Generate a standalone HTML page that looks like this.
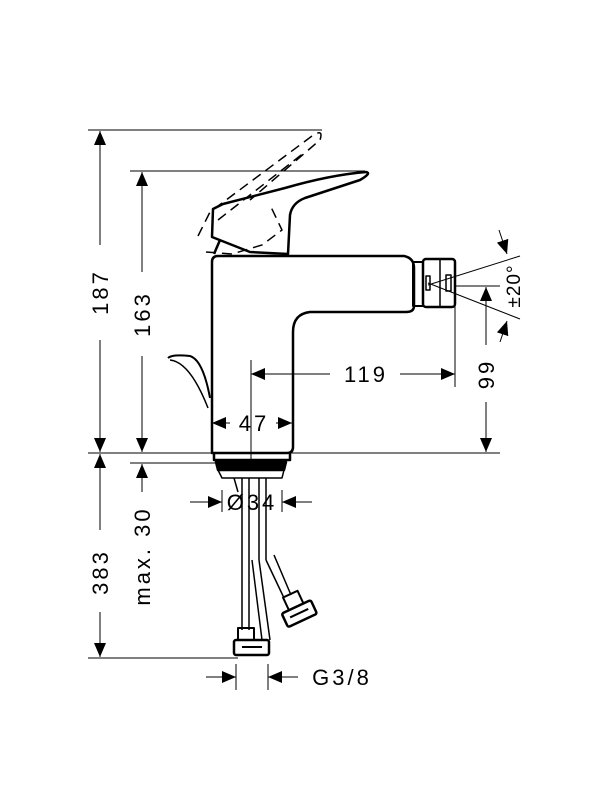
<!DOCTYPE html>
<html><head><style>html,body{margin:0;padding:0;background:#fff}svg{display:block}</style></head>
<body>
<svg width="600" height="800" viewBox="0 0 600 800" xmlns="http://www.w3.org/2000/svg" font-family="Liberation Sans, sans-serif">
<defs>
<marker id="a" viewBox="0 0 14 12" refX="14" refY="6" markerWidth="14" markerHeight="12" orient="auto-start-reverse" markerUnits="userSpaceOnUse"><path d="M0,0L14,6L0,12z" fill="#000"/></marker>
</defs>
<g stroke="#000" stroke-width="1" fill="none">
<line x1="88" y1="130" x2="322" y2="130"/>
<line x1="130" y1="171" x2="365" y2="171"/>
<line x1="88" y1="453" x2="500" y2="453"/>
<line x1="130" y1="463" x2="215" y2="463"/>
<line x1="88" y1="658" x2="238" y2="658"/>
<line x1="100" y1="131" x2="100" y2="245" marker-start="url(#a)"/>
<line x1="100" y1="340" x2="100" y2="452" marker-end="url(#a)"/>
<line x1="142" y1="172" x2="142" y2="272" marker-start="url(#a)"/>
<line x1="142" y1="356" x2="142" y2="452" marker-end="url(#a)"/>
<line x1="100" y1="454" x2="100" y2="530" marker-start="url(#a)"/>
<line x1="100" y1="612" x2="100" y2="657" marker-end="url(#a)"/>
<line x1="142" y1="464" x2="142" y2="492" marker-start="url(#a)"/>
<line x1="486" y1="287" x2="486" y2="345" marker-start="url(#a)"/>
<line x1="486" y1="402" x2="486" y2="452" marker-end="url(#a)"/>
<line x1="455" y1="286" x2="500" y2="286"/>
<line x1="455" y1="306" x2="455" y2="387"/>
<line x1="428" y1="285" x2="520" y2="256"/>
<line x1="428" y1="283" x2="520" y2="319"/>
<line x1="499" y1="230" x2="507" y2="254" marker-end="url(#a)"/>
<line x1="500" y1="342" x2="507" y2="321" marker-end="url(#a)"/>
<line x1="251" y1="360" x2="251" y2="460"/>
<line x1="251" y1="374" x2="330" y2="374" marker-start="url(#a)"/>
<line x1="400" y1="374" x2="455" y2="374" marker-end="url(#a)"/>
<line x1="212" y1="423" x2="230" y2="423" marker-start="url(#a)"/>
<line x1="276" y1="423" x2="292" y2="423" marker-end="url(#a)"/>
<line x1="190" y1="502" x2="222" y2="502" marker-end="url(#a)"/>
<line x1="312" y1="502" x2="282" y2="502" marker-end="url(#a)"/>
<line x1="222" y1="490" x2="222" y2="512"/><line x1="282" y1="490" x2="282" y2="512"/>
<line x1="206" y1="677" x2="236" y2="677" marker-end="url(#a)"/>
<line x1="298" y1="677" x2="268" y2="677" marker-end="url(#a)"/>
<line x1="236" y1="664" x2="236" y2="690"/><line x1="268" y1="664" x2="268" y2="690"/>
</g>
<g stroke="#000" stroke-width="2.5" fill="none" stroke-linejoin="round">
<path d="M212,453 L212,262 Q212,256 218,256 L404,256 Q414,258 414,268 L414,306 Q414,312 406,312 L310,312 Q293,314 293,332 L293,447 Q293,453 287,453 Z"/>
<path d="M214,453 L214,460 L290,460 L290,453"/>
<path d="M213,209 L212,237 L250,252 L288,254 L290,215 Q292,203 305,198 L360,180 Q372,173 366,172 Q330,175 285,188 L223,204 Z"/>
<path d="M220,240 L214,254"/>
<path d="M168,358 Q172,354 190,356 Q203,360 210,398" stroke-width="2"/>
<path d="M170,360 Q190,362 208,408" stroke-width="1.5"/>
<rect x="413" y="262" width="10" height="44" stroke-width="2"/>
<rect x="423" y="259" width="32" height="48" rx="3"/>
<line x1="440" y1="260" x2="440" y2="306" stroke-width="1.5"/>
<rect x="426" y="276" width="4" height="14" stroke-width="1.5"/>
<rect x="446" y="275" width="5" height="16" stroke-width="1.5"/>
<path d="M216,462 L286,462 L284,470 L218,470 Z" fill="#000"/>
<path d="M218,470 L222,478 L282,478 L284,470" stroke-width="1.5"/>
<g stroke-width="1.5">
<line x1="242" y1="478" x2="242" y2="630"/><line x1="249" y1="478" x2="249" y2="630"/>
<line x1="259" y1="478" x2="259" y2="560"/><line x1="266" y1="478" x2="266" y2="560"/>
<line x1="252" y1="560" x2="262" y2="640"/><line x1="259" y1="560" x2="270" y2="640"/>
<line x1="266" y1="560" x2="284" y2="598"/><line x1="274" y1="555" x2="291" y2="595"/>
<path d="M234,478 L238,492"/>
</g>
<path d="M238,628 L254,628 L254,640 L238,640 Z" stroke-width="2"/>
<rect x="234" y="640" width="35" height="15" rx="2" stroke-width="2.5"/>
<line x1="242" y1="647" x2="262" y2="647" stroke-width="2"/>
<g transform="rotate(-25 300 615)">
<rect x="292" y="592" width="16" height="14" stroke-width="2"/>
<rect x="284" y="606" width="32" height="15" rx="2" stroke-width="2.5"/>
<line x1="290" y1="613" x2="310" y2="613" stroke-width="2"/>
</g>
</g>
<g stroke="#000" stroke-width="1.5" fill="none" stroke-dasharray="10,6">
<path d="M198,236 L210,212 L312,136 Q324,128 320,140 L250,200"/>
<path d="M206,252 L232,254 L262,245 L282,230 L270,205"/>
<path d="M218,220 L305,152"/>
</g>
<g font-size="22" fill="#000" text-anchor="middle" letter-spacing="3">
<text transform="translate(108,292) rotate(-90)">187</text>
<text transform="translate(150,314) rotate(-90)">163</text>
<text transform="translate(108,572) rotate(-90)">383</text>
<text transform="translate(150,556) rotate(-90)">max. 30</text>
<text transform="translate(494,374) rotate(-90)">99</text>
<text transform="translate(520,286) rotate(-90)" font-size="19" letter-spacing="1">±20°</text>
<text x="366" y="382">119</text>
<text x="254" y="431">47</text>
<text x="252" y="510">Ø34</text>
<text x="342" y="685">G3/8</text>
</g>
</svg>
</body></html>
